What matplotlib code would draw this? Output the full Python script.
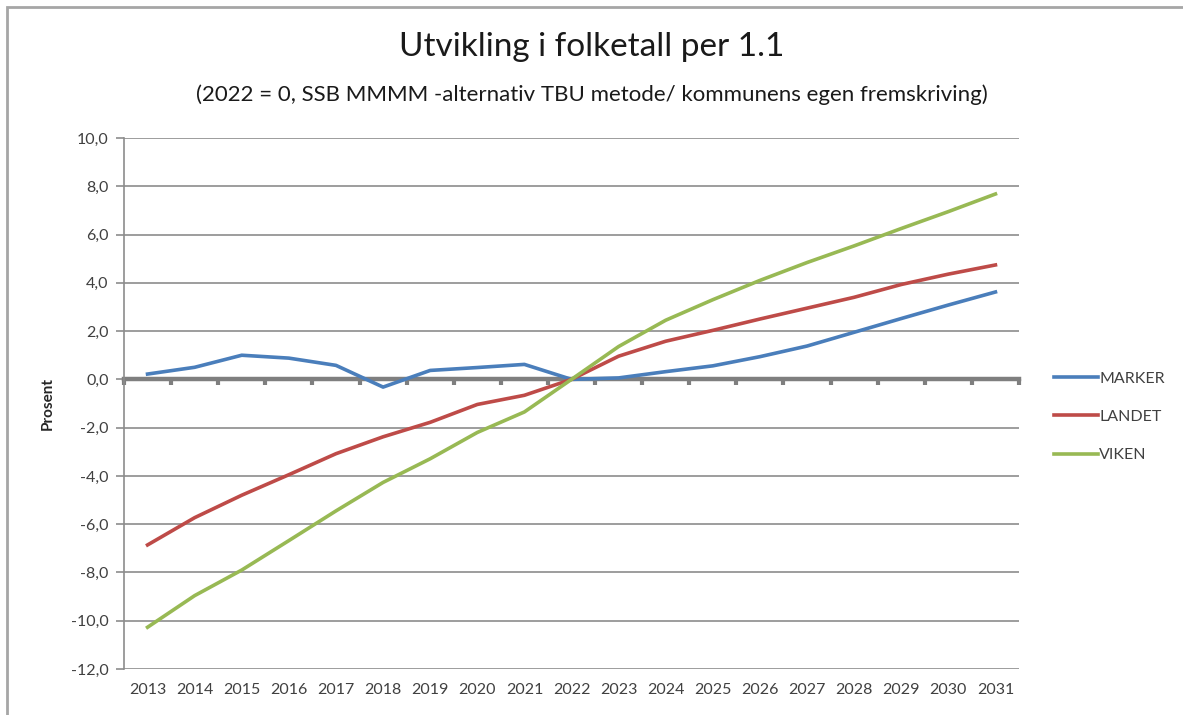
import matplotlib.pyplot as plt
from matplotlib.patches import Rectangle

years = [str(y) for y in range(2013, 2032)]
marker = [0.22, 0.5, 1.0, 0.88, 0.58, -0.32, 0.37, 0.49, 0.62, 0.0,
          0.06, 0.32, 0.56, 0.94, 1.38, 1.95, 2.52, 3.08, 3.62]
landet = [-6.86, -5.73, -4.8, -3.95, -3.08, -2.38, -1.78, -1.04, -0.66, 0.0,
          0.96, 1.58, 2.03, 2.5, 2.95, 3.4, 3.93, 4.36, 4.74]
viken = [-10.27, -8.96, -7.9, -6.68, -5.45, -4.27, -3.29, -2.2, -1.35, 0.0,
         1.36, 2.45, 3.3, 4.1, 4.84, 5.53, 6.25, 6.95, 7.68]

plt.rcParams['font.family'] = ['Lato', 'DejaVu Sans']

fig = plt.figure(figsize=(11.83, 7.15), dpi=100)
fig.patches.append(Rectangle((7 / 1183, -0.1), 1.2, 1 - 7 / 715 + 0.1,
                             transform=fig.transFigure, fill=False,
                             edgecolor='#a6a6a6', linewidth=2))

ax = fig.add_axes([124 / 1183, 1 - 669 / 715, (1019 - 124) / 1183, (669 - 138) / 715])

x = list(range(len(years)))
ax.plot(x, marker, color='#4a7ebb', lw=2.6, label='MARKER', solid_joinstyle='round')
ax.plot(x, landet, color='#be4b48', lw=2.6, label='LANDET', solid_joinstyle='round')
ax.plot(x, viken, color='#98b954', lw=2.6, label='VIKEN', solid_joinstyle='round')

ax.set_xlim(-0.5, len(years) - 0.5)
ax.set_ylim(-12, 10)
ax.set_yticks(range(-12, 11, 2))
ax.set_yticklabels([f'{v:.1f}'.replace('.', ',') for v in range(-12, 11, 2)])
ax.yaxis.grid(True, color='#8c8c8c', lw=1.2)
ax.set_axisbelow(True)

for s in ['top', 'right']:
    ax.spines[s].set_visible(False)
ax.spines['left'].set_color('#8c8c8c')
ax.spines['left'].set_linewidth(1.2)
ax.spines['bottom'].set_position(('data', 0))
ax.spines['bottom'].set_color('#7f7f7f')
ax.spines['bottom'].set_linewidth(3.2)
ax.spines['bottom'].set_zorder(1.5)

ax.set_xticks([i - 0.5 for i in range(len(years) + 1)])
ax.tick_params(axis='x', length=4, width=3, color='#7f7f7f', labelbottom=False)
ax.tick_params(axis='y', length=6, width=1.2, color='#8c8c8c', labelsize=11.5,
               labelcolor='#404040', pad=5)

sec = ax.secondary_xaxis(0.0)
sec.set_xticks(x, labels=years)
sec.tick_params(length=0, labelsize=11.5, labelcolor='#404040', pad=10)
sec.spines['bottom'].set_visible(False)

ax.set_ylabel('Prosent', fontsize=11, fontweight='bold', color='#262626', labelpad=12)

fig.text(0.5, 1 - 47 / 715, 'Utvikling i folketall per 1.1', ha='center', va='center',
         fontsize=24, color='#1a1a1a')
fig.text(0.5, 1 - 95 / 715,
         '(2022 = 0, SSB MMMM -alternativ TBU metode/ kommunens egen fremskriving)',
         ha='center', va='center', fontsize=16, color='#1a1a1a')

fig.legend(loc='center left', bbox_to_anchor=(1040 / 1183, 1 - 417 / 715), frameon=False,
           fontsize=11.5, labelcolor='#404040', handlelength=2.7, handletextpad=0.1,
           labelspacing=1.5)

fig.savefig('out.png', dpi=100)
